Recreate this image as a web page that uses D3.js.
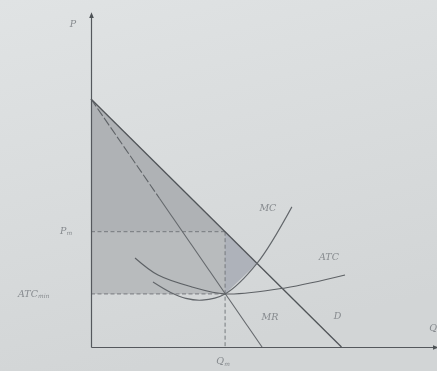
<!DOCTYPE html>
<html>
<head>
<meta charset="utf-8">
<script src="https://cdn.jsdelivr.net/npm/d3@7"></script>
<style>
  body { margin: 0; background: #d8dbdc; overflow: hidden; }
  svg { display: block; }
  .lbl { font-family: "DejaVu Serif", "Liberation Serif", serif; font-style: italic; fill: #868a8e; font-size: 9.5px; }
  .sub { font-size: 6px; }
</style>
</head>
<body>
<div id="chart"></div>
<script>
// --- curves in (Q, P) units ---
var demand = [[0, 100], [99, 0]];
var mr = [[0, 100], [67.6, 0]];
var mc = [[24.5, 26.2], [31.5, 22.0], [37.5, 19.6], [43.9, 18.9], [53, 21.4], [65.6, 33.7], [79.4, 56.5]];
var atc = [[17.4, 35.9], [26.5, 29.0], [39.9, 24.2], [53, 21.4], [76.7, 23.8], [100.4, 29.0]];

// --- monopoly point ---
var qm = 53, pm = 46.5, atcMin = 21.4;
var dMc = [65.6, 33.7]; // where MC cuts D

// axis extents
var qMax = 136, pMax = 134;

var w = 437, h = 371;

var svg = d3.select("#chart").append("svg")
  .attr("width", w)
  .attr("height", h);

var defs = svg.append("defs");
var grad = defs.append("linearGradient").attr("id", "paper")
  .attr("x1", 0).attr("y1", 0).attr("x2", 0.3).attr("y2", 1);
grad.append("stop").attr("offset", "0%").attr("stop-color", "#e0e3e4");
grad.append("stop").attr("offset", "100%").attr("stop-color", "#d2d5d6");

defs.append("filter").attr("id", "soft")
  .append("feGaussianBlur").attr("stdDeviation", 0.45);

defs.append("marker").attr("id", "arrow")
  .attr("viewBox", "0 0 10 10").attr("refX", 5).attr("refY", 5)
  .attr("markerWidth", 5).attr("markerHeight", 5)
  .attr("orient", "auto")
  .append("path").attr("d", "M0,1L10,5L0,9Z").attr("fill", "#4e5256");

svg.append("rect").attr("width", w).attr("height", h).attr("fill", "url(#paper)");

var x = d3.scaleLinear().domain([0, 100]).range([91, 344]);
var y = d3.scaleLinear().domain([0, 100]).range([347, 99]);

var g = svg.append("g").attr("filter", "url(#soft)");

var line = d3.line().x(function (d) { return x(d[0]); }).y(function (d) { return y(d[1]); });
var curve = d3.line().x(function (d) { return x(d[0]); }).y(function (d) { return y(d[1]); })
  .curve(d3.curveCatmullRom.alpha(0.5));

// --- shaded areas ---
g.append("path")
  .attr("d", line([demand[0], [qm, pm], [0, pm]]) + "Z")
  .attr("fill", "#afb2b5");
g.append("path")
  .attr("d", line([[0, pm], [qm, pm], [qm, atcMin], [0, atcMin]]) + "Z")
  .attr("fill", "#b8bbbd");
g.append("path")
  .attr("d", line([[qm, pm], dMc, [qm, atcMin]]) + "Z")
  .attr("fill", "#aeb2ba");

// --- dashed guides ---
var guide = function (pts) {
  g.append("path").attr("d", line(pts))
    .attr("fill", "none").attr("stroke", "#6e7276")
    .attr("stroke-width", 0.9).attr("stroke-dasharray", "4,2.5");
};
guide([[0, pm], [qm, pm]]);
guide([[0, atcMin], [qm, atcMin]]);
guide([[qm, pm], [qm, 0]]);

// --- curves ---
g.append("path").attr("d", line(demand))
  .attr("fill", "none").attr("stroke", "#505458").attr("stroke-width", 1.3);

// MR: dashed near the top, solid further down
var mrSplit = d3.interpolate(mr[0], mr[1])(0.4);
g.append("path").attr("d", line([mr[0], mrSplit]))
  .attr("fill", "none").attr("stroke", "#5f6367").attr("stroke-width", 1.1)
  .attr("stroke-dasharray", "9,2.5");
g.append("path").attr("d", line([mrSplit, mr[1]]))
  .attr("fill", "none").attr("stroke", "#64686c").attr("stroke-width", 1.1);

g.append("path").attr("d", curve(mc))
  .attr("fill", "none").attr("stroke", "#62666a").attr("stroke-width", 1.1);
g.append("path").attr("d", curve(atc))
  .attr("fill", "none").attr("stroke", "#5d6165").attr("stroke-width", 1.1);

// --- axes ---
var xa = x.copy().domain([0, qMax]).range([x(0), x(qMax)]);
var ya = y.copy().domain([0, pMax]).range([y(0), y(pMax)]);

var xAxis = g.append("g").attr("transform", "translate(0," + y(0) + ")")
  .call(d3.axisBottom(xa).tickValues([]).tickSizeOuter(0));
var yAxis = g.append("g").attr("transform", "translate(" + x(0) + ",0)")
  .call(d3.axisLeft(ya).tickValues([]).tickSizeOuter(0));
[xAxis, yAxis].forEach(function (a) {
  a.select(".domain").attr("stroke", "#55595d").attr("stroke-width", 1.2)
    .attr("marker-end", "url(#arrow)");
});

// --- labels ---
function label(px, py, main, sub, anchor) {
  var t = g.append("text").attr("class", "lbl")
    .attr("x", px).attr("y", py).attr("text-anchor", anchor || "middle");
  t.append("tspan").text(main);
  if (sub) t.append("tspan").attr("class", "sub").attr("dy", 1.5).text(sub);
  return t;
}

label(x(0) - 18, ya(pMax) + 12, "P");
label(x(0) - 31, y(pm) + 2, "P", "m", "start");
label(x(0) - 73, y(atcMin) + 3, "ATC", "min", "start");
label(x(qm) - 2, y(0) + 17, "Q", "m");
label(xa(qMax) - 2, y(0) - 16, "Q");

var mcEnd = mc[mc.length - 1], atcEnd = atc[atc.length - 1];
label(x(mcEnd[0]) - 24, y(mcEnd[1]) + 4, "MC");
label(x(atcEnd[0]) - 16, y(atcEnd[1]) - 15, "ATC");
label(x(mr[1][0]) + 8, y(0) - 27, "MR");
label(x(demand[1][0]) - 4, y(0) - 28, "D");
</script>
</body>
</html>
